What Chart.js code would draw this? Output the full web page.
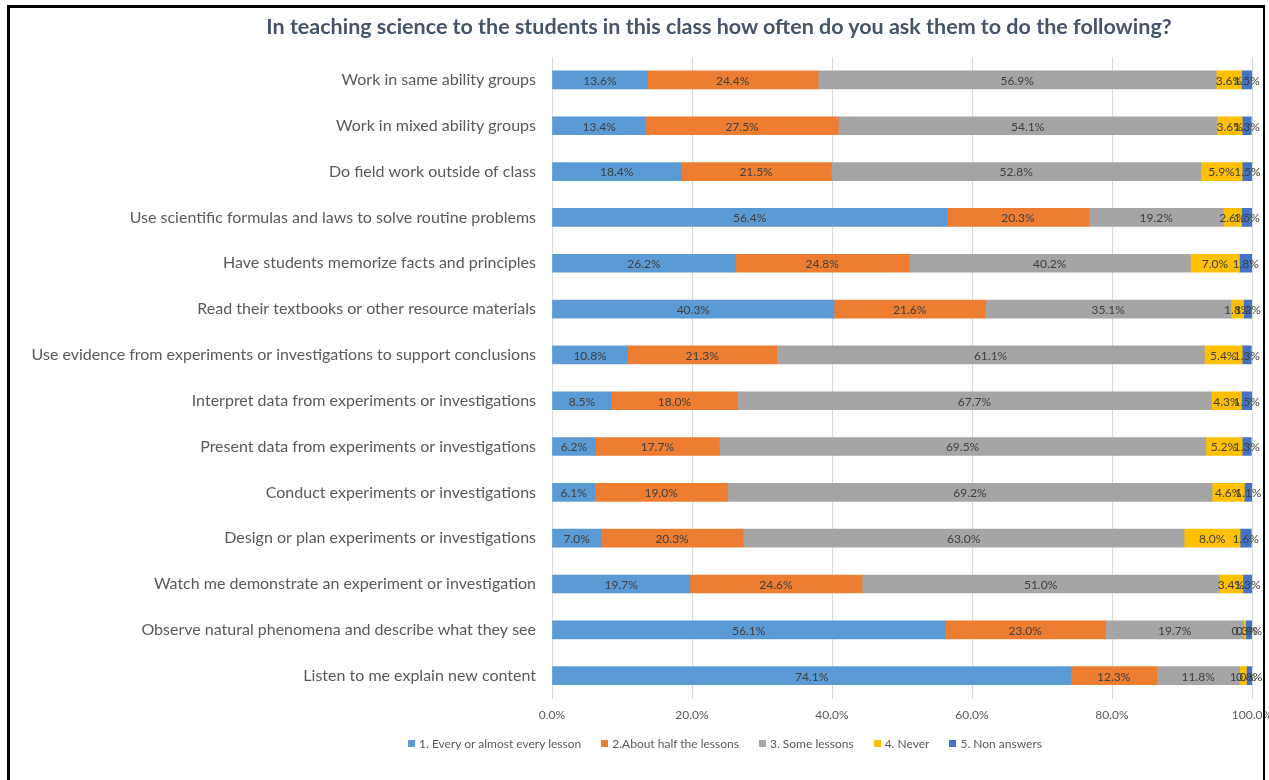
<!DOCTYPE html>
<html>
<head>
<meta charset="utf-8">
<script src="https://cdn.jsdelivr.net/npm/chart.js@4/dist/chart.umd.min.js"></script>
<style>
  html, body { margin: 0; padding: 0; background: #fff; overflow: hidden; }
  #wrap { position: relative; width: 1269px; height: 780px; font-family: Lato, sans-serif; }
  #frame {
    position: absolute; left: 7px; top: 5px; width: 1253px; height: 780px;
    border-left: 3px solid #000; border-top: 3px solid #000; border-right: 2px solid #000;
    pointer-events: none;
  }
  #title {
    position: absolute; left: 219px; width: 1000px; top: 13px;
    text-align: center; font-weight: bold; font-size: 21.5px; color: #44546A;
    white-space: nowrap;
  }
  #legend {
    position: absolute; left: 225px; width: 1000px; top: 736px;
    display: flex; justify-content: center; font-size: 12px; color: #595959;
  }
  #legend .item { display: flex; align-items: center; margin: 0 10px; white-space: nowrap; }
  #legend .box { width: 7px; height: 7px; margin-right: 4px; }
</style>
</head>
<body>
<div id="wrap">
  <canvas id="chart" width="1269" height="780"></canvas>
  <div id="title"></div>
  <div id="legend"></div>
  <div id="frame"></div>
</div>
<script>
const chartTitle = "In teaching science to the students in this class how often do you ask them to do the following?";

const categories = [
  "Work in same ability groups",
  "Work in mixed ability groups",
  "Do field work outside of class",
  "Use scientific formulas and laws to solve routine problems",
  "Have students memorize facts and principles",
  "Read their textbooks or other resource materials",
  "Use evidence from experiments or investigations to support conclusions",
  "Interpret data from experiments or investigations",
  "Present data from experiments or investigations",
  "Conduct experiments or investigations",
  "Design or plan experiments or investigations",
  "Watch me demonstrate an experiment or investigation",
  "Observe natural phenomena and describe what they see",
  "Listen to me explain new content"
];

const seriesNames = [
  "1. Every or almost every lesson",
  "2.About half the lessons",
  "3. Some lessons",
  "4. Never",
  "5. Non answers"
];

const everyLesson = [13.6, 13.4, 18.4, 56.4, 26.2, 40.3, 10.8, 8.5, 6.2, 6.1, 7.0, 19.7, 56.1, 74.1];
const halfLessons = [24.4, 27.5, 21.5, 20.3, 24.8, 21.6, 21.3, 18.0, 17.7, 19.0, 20.3, 24.6, 23.0, 12.3];
const someLessons = [56.9, 54.1, 52.8, 19.2, 40.2, 35.1, 61.1, 67.7, 69.5, 69.2, 63.0, 51.0, 19.7, 11.8];
const never       = [3.6, 3.6, 5.9, 2.6, 7.0, 1.8, 5.4, 4.3, 5.2, 4.6, 8.0, 3.4, 0.3, 1.0];
const nonAnswers  = [1.5, 1.3, 1.5, 1.5, 1.8, 1.2, 1.3, 1.5, 1.3, 1.1, 1.6, 1.3, 0.9, 0.8];

const colors = ["#5B9BD5", "#ED7D31", "#A5A5A5", "#FFC000", "#4472C4"];
const allSeries = [everyLesson, halfLessons, someLessons, never, nonAnswers];

const padLeft = 10;

document.getElementById("title").innerText = chartTitle;

// legend
let legend = document.getElementById("legend");
seriesNames.forEach((name, i) => {
  let item = document.createElement("div");
  item.className = "item";
  let box = document.createElement("div");
  box.className = "box";
  box.style.background = colors[i];
  let txt = document.createElement("span");
  txt.innerText = name;
  item.appendChild(box);
  item.appendChild(txt);
  legend.appendChild(item);
});

// draws the value in the middle of each bar piece
const barLabels = {
  id: "barLabels",
  afterDatasetsDraw(chart) {
    const ctx = chart.ctx;
    ctx.save();
    ctx.font = "12px Lato";
    ctx.fillStyle = "#404040";
    ctx.textAlign = "center";
    ctx.textBaseline = "middle";
    chart.data.datasets.forEach((ds, i) => {
      chart.getDatasetMeta(i).data.forEach((bar, j) => {
        let x = (bar.x + bar.base) / 2;
        ctx.fillText(ds.data[j].toFixed(1) + "%", x, bar.y + 1);
      });
    });
    ctx.restore();
  }
};

new Chart(document.getElementById("chart"), {
  type: "bar",
  data: {
    labels: categories,
    datasets: allSeries.map((d, i) => ({
      label: seriesNames[i],
      data: d,
      backgroundColor: colors[i],
      barThickness: 18
    }))
  },
  options: {
    indexAxis: "y",
    responsive: false,
    animation: false,
    layout: { padding: { left: padLeft, right: 0, top: 57, bottom: 49 } },
    scales: {
      x: {
        stacked: true,
        min: 0,
        max: 100,
        afterFit(scale) { scale.paddingRight = 17; },
        ticks: {
          stepSize: 20,
          padding: 9,
          color: "#595959",
          font: { family: "Lato", size: 12 },
          callback: v => v.toFixed(1) + "%"
        },
        grid: { color: "#D9D9D9", drawTicks: false },
        border: { display: false }
      },
      y: {
        stacked: true,
        afterFit(scale) { scale.width = 552 - padLeft; },
        ticks: {
          padding: 16,
          color: "#595959",
          font: { family: "Lato", size: 16 }
        },
        grid: { display: false, drawTicks: false },
        border: { display: false }
      }
    },
    plugins: {
      legend: { display: false },
      tooltip: { enabled: false }
    }
  },
  plugins: [barLabels]
});
</script>
</body>
</html>
